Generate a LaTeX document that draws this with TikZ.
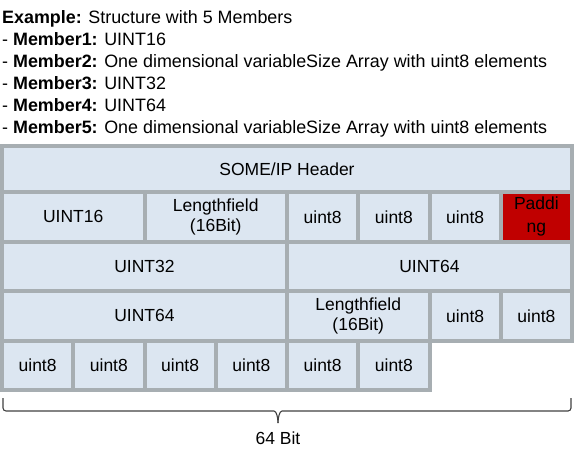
\documentclass[tikz,border=0pt]{standalone}
\usepackage{fontspec}
\setmainfont{Liberation Sans}
\usetikzlibrary{positioning}
\definecolor{ipcell}{HTML}{DCE6F1}
\definecolor{ipgrid}{HTML}{A7AEB2}
\definecolor{ippad}{HTML}{C00000}
\definecolor{ipbrace}{HTML}{404040}

\begin{document}
\begin{tikzpicture}[x=1pt,y=-1pt,
  txt/.style={inner sep=0pt,font=\fontsize{17.5}{20}\selectfont},
  listtxt/.style={txt,anchor=base west,font=\fontsize{17.9}{20}\selectfont},
  cell/.style={txt,draw=ipgrid,fill=ipcell,line width=4pt,align=center,
    minimum height=49.5pt},
  hdrcell/.style={cell,minimum height=46pt},
  byte/.style={cell,minimum width=71.25pt},
  word/.style={cell,minimum width=142.5pt},
  dword/.style={cell,minimum width=285pt},
  padcell/.style={byte,fill=ippad,font=\fontsize{17.5}{23}\selectfont},
  bracestyle/.style={ipbrace,line width=1.1pt,rounded corners=3pt}]
  \useasboundingbox (0,0) rectangle (584,456);
  % member list
  \node[listtxt] (title) at (2,23) {\textbf{Example:} Structure with 5 Members};
  \foreach \n/\t [count=\k] in {1/UINT16,
      2/One dimensional variableSize Array with uint8 elements,
      3/UINT32, 4/UINT64,
      5/One dimensional variableSize Array with uint8 elements}
    \node[listtxt] (m\n) at (2,{23+22.1*\k}) {- \textbf{Member\n:} \t};
  % row 1
  \node[hdrcell,minimum width=570pt] (hdr) at (287,169) {SOME/IP Header};
  % row 2
  \node[word] (u16) at (73.25,216.75) {UINT16};
  \node[word] (len1) at (215.75,216.75) {Lengthfield\\(16Bit)};
  \node[byte] (b1) at (322.625,216.75) {uint8};
  \node[byte] (b2) at (393.875,216.75) {uint8};
  \node[byte] (b3) at (465.125,216.75) {uint8};
  \node[padcell] (pad) at (536.375,216.75) {Paddi\\ng};
  % row 3
  \node[dword] (u32) at (144.5,266.25) {UINT32};
  \node[dword] (u64a) at (429.5,266.25) {UINT64};
  % row 4
  \node[dword] (u64b) at (144.5,315.75) {UINT64};
  \node[word] (len2) at (358.25,315.75) {Lengthfield\\(16Bit)};
  \node[byte] (b4) at (465.125,315.75) {uint8};
  \node[byte] (b5) at (536.375,315.75) {uint8};
  % row 5
  \foreach \i in {0,...,5}
    \node[byte] (r5b\i) at ({37.625+71.25*\i},365.25) {uint8};
  % brace
  \coordinate (tip) at (278,423);
  \draw[bracestyle] (3,398) |- (271,411) to[out=0,in=90] (tip);
  \draw[bracestyle] (571,398) |- (285,411) to[out=180,in=90] (tip);
  \node[txt,below=9pt of tip] (bits) {64 Bit};
\end{tikzpicture}
\end{document}
